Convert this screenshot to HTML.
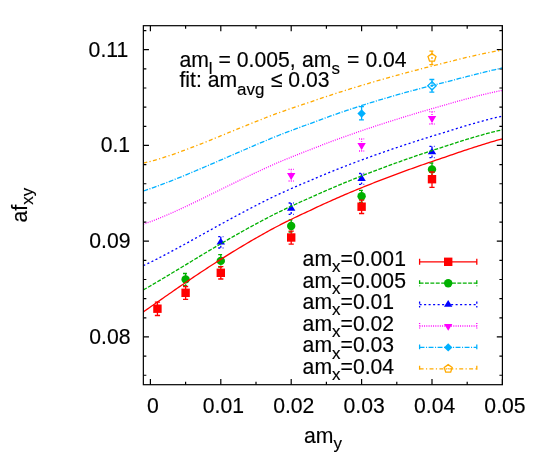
<!DOCTYPE html>
<html><head><meta charset="utf-8"><title>plot</title>
<style>html,body{margin:0;padding:0;background:#fff}body{width:538px;height:467px;overflow:hidden}</style>
</head><body>
<svg width="538" height="467" viewBox="0 0 538 467" style="will-change:transform;display:block;font-family:'Liberation Sans',sans-serif" fill="#000">
<rect width="538" height="467" fill="#fff"/>
<clipPath id="c"><rect x="143.35" y="25.7" width="359.04999999999995" height="359.0"/></clipPath>
<path d="M150.40,384.7 v-5.6 M150.40,25.7 v5.6 M185.60,384.7 v-3.0 M185.60,25.7 v3.0 M220.80,384.7 v-5.6 M220.80,25.7 v5.6 M256.00,384.7 v-3.0 M256.00,25.7 v3.0 M291.20,384.7 v-5.6 M291.20,25.7 v5.6 M326.40,384.7 v-3.0 M326.40,25.7 v3.0 M361.60,384.7 v-5.6 M361.60,25.7 v5.6 M396.80,384.7 v-3.0 M396.80,25.7 v3.0 M432.00,384.7 v-5.6 M432.00,25.7 v5.6 M467.20,384.7 v-3.0 M467.20,25.7 v3.0 M502.40,384.7 v-5.6 M502.40,25.7 v5.6 M143.35,375.25 h3.0 M502.4,375.25 h-3.0 M143.35,356.10 h3.0 M502.4,356.10 h-3.0 M143.35,336.95 h5.6 M502.4,336.95 h-5.6 M143.35,317.80 h3.0 M502.4,317.80 h-3.0 M143.35,298.65 h3.0 M502.4,298.65 h-3.0 M143.35,279.50 h3.0 M502.4,279.50 h-3.0 M143.35,260.35 h3.0 M502.4,260.35 h-3.0 M143.35,241.20 h5.6 M502.4,241.20 h-5.6 M143.35,222.05 h3.0 M502.4,222.05 h-3.0 M143.35,202.90 h3.0 M502.4,202.90 h-3.0 M143.35,183.75 h3.0 M502.4,183.75 h-3.0 M143.35,164.60 h3.0 M502.4,164.60 h-3.0 M143.35,145.45 h5.6 M502.4,145.45 h-5.6 M143.35,126.30 h3.0 M502.4,126.30 h-3.0 M143.35,107.15 h3.0 M502.4,107.15 h-3.0 M143.35,88.00 h3.0 M502.4,88.00 h-3.0 M143.35,68.85 h3.0 M502.4,68.85 h-3.0 M143.35,49.70 h5.6 M502.4,49.70 h-5.6 M143.35,30.55 h3.0 M502.4,30.55 h-3.0" stroke="#000" stroke-width="1.2" fill="none"/>
<path d="M432.00,51.20 V64.60 M429.40,51.20 H434.60 M429.40,64.60 H434.60" stroke="#ffaa00" stroke-width="1.3" fill="none" stroke-dasharray="4.00,2.35,1.20,2.35"/>
<path d="M432.00,53.60 L428.01,56.50 L429.53,61.20 L434.47,61.20 L435.99,56.50Z" fill="none" stroke="#ffaa00" stroke-width="1.3" stroke-linejoin="miter"/><circle cx="432.00" cy="57.80" r="0.7" fill="#ffaa00"/>
<path d="M361.60,106.70 V119.80 M359.00,106.70 H364.20 M359.00,119.80 H364.20" stroke="#00b0ff" stroke-width="1.3" fill="none" stroke-dasharray="4.90,1.50,1.10,1.50"/>
<path d="M361.60,109.30 L357.40,113.50 L361.60,117.70 L365.80,113.50Z" fill="#00b0ff"/>
<path d="M432.00,79.50 V92.20 M429.40,79.50 H434.60 M429.40,92.20 H434.60" stroke="#00b0ff" stroke-width="1.3" fill="none" stroke-dasharray="4.90,1.50,1.10,1.50"/>
<path d="M432.00,81.60 L427.80,85.80 L432.00,90.00 L436.20,85.80Z" fill="none" stroke="#00b0ff" stroke-width="1.3"/><circle cx="432.00" cy="85.80" r="0.7" fill="#00b0ff"/>
<path d="M291.20,169.40 V181.00 M288.60,169.40 H293.80 M288.60,181.00 H293.80" stroke="#ff00ff" stroke-width="1.3" fill="none" stroke-dasharray="0.95,1.30"/>
<path d="M291.20,179.90 L287.00,173.10 L295.40,173.10Z" fill="#ff00ff"/>
<path d="M361.60,138.90 V151.00 M359.00,138.90 H364.20 M359.00,151.00 H364.20" stroke="#ff00ff" stroke-width="1.3" fill="none" stroke-dasharray="0.95,1.30"/>
<path d="M361.60,149.90 L357.40,143.10 L365.80,143.10Z" fill="#ff00ff"/>
<path d="M432.00,111.70 V124.00 M429.40,111.70 H434.60 M429.40,124.00 H434.60" stroke="#ff00ff" stroke-width="1.3" fill="none" stroke-dasharray="0.95,1.30"/>
<path d="M432.00,122.90 L427.80,116.10 L436.20,116.10Z" fill="#ff00ff"/>
<path d="M220.80,236.70 V248.00 M218.20,236.70 H223.40 M218.20,248.00 H223.40" stroke="#0000ff" stroke-width="1.3" fill="none" stroke-dasharray="2.05,2.45"/>
<path d="M220.80,237.70 L216.60,244.50 L225.00,244.50Z" fill="#0000ff"/>
<path d="M291.20,203.00 V214.40 M288.60,203.00 H293.80 M288.60,214.40 H293.80" stroke="#0000ff" stroke-width="1.3" fill="none" stroke-dasharray="2.05,2.45"/>
<path d="M291.20,204.00 L287.00,210.80 L295.40,210.80Z" fill="#0000ff"/>
<path d="M361.60,173.50 V184.30 M359.00,173.50 H364.20 M359.00,184.30 H364.20" stroke="#0000ff" stroke-width="1.3" fill="none" stroke-dasharray="2.05,2.45"/>
<path d="M361.60,174.10 L357.40,180.90 L365.80,180.90Z" fill="#0000ff"/>
<path d="M432.00,146.40 V157.70 M429.40,146.40 H434.60 M429.40,157.70 H434.60" stroke="#0000ff" stroke-width="1.3" fill="none" stroke-dasharray="2.05,2.45"/>
<path d="M432.00,147.40 L427.80,154.20 L436.20,154.20Z" fill="#0000ff"/>
<path d="M185.60,273.50 V285.70 M183.00,273.50 H188.20 M183.00,285.70 H188.20" stroke="#00b000" stroke-width="1.3" fill="none" stroke-dasharray="3.90,1.50"/>
<circle cx="185.60" cy="279.40" r="4.20" fill="#00b000"/>
<path d="M220.80,254.60 V267.00 M218.20,254.60 H223.40 M218.20,267.00 H223.40" stroke="#00b000" stroke-width="1.3" fill="none" stroke-dasharray="3.90,1.50"/>
<circle cx="220.80" cy="260.90" r="4.20" fill="#00b000"/>
<path d="M291.20,219.80 V232.00 M288.60,219.80 H293.80 M288.60,232.00 H293.80" stroke="#00b000" stroke-width="1.3" fill="none" stroke-dasharray="3.90,1.50"/>
<circle cx="291.20" cy="226.00" r="4.20" fill="#00b000"/>
<path d="M361.60,190.30 V202.30 M359.00,190.30 H364.20 M359.00,202.30 H364.20" stroke="#00b000" stroke-width="1.3" fill="none" stroke-dasharray="3.90,1.50"/>
<circle cx="361.60" cy="196.20" r="4.20" fill="#00b000"/>
<path d="M432.00,163.00 V176.00 M429.40,163.00 H434.60 M429.40,176.00 H434.60" stroke="#00b000" stroke-width="1.3" fill="none" stroke-dasharray="3.90,1.50"/>
<circle cx="432.00" cy="169.40" r="4.20" fill="#00b000"/>
<path d="M157.44,302.10 V315.50 M154.84,302.10 H160.04 M154.84,315.50 H160.04" stroke="#ff0000" stroke-width="1.3" fill="none"/>
<rect x="153.24" y="304.50" width="8.40" height="8.40" fill="#ff0000"/>
<path d="M185.60,286.50 V299.40 M183.00,286.50 H188.20 M183.00,299.40 H188.20" stroke="#ff0000" stroke-width="1.3" fill="none"/>
<rect x="181.40" y="288.60" width="8.40" height="8.40" fill="#ff0000"/>
<path d="M220.80,266.60 V279.00 M218.20,266.60 H223.40 M218.20,279.00 H223.40" stroke="#ff0000" stroke-width="1.3" fill="none"/>
<rect x="216.60" y="268.60" width="8.40" height="8.40" fill="#ff0000"/>
<path d="M291.20,231.20 V244.10 M288.60,231.20 H293.80 M288.60,244.10 H293.80" stroke="#ff0000" stroke-width="1.3" fill="none"/>
<rect x="287.00" y="233.30" width="8.40" height="8.40" fill="#ff0000"/>
<path d="M361.60,200.20 V213.50 M359.00,200.20 H364.20 M359.00,213.50 H364.20" stroke="#ff0000" stroke-width="1.3" fill="none"/>
<rect x="357.40" y="202.50" width="8.40" height="8.40" fill="#ff0000"/>
<path d="M432.00,172.00 V187.30 M429.40,172.00 H434.60 M429.40,187.30 H434.60" stroke="#ff0000" stroke-width="1.3" fill="none"/>
<rect x="427.80" y="175.00" width="8.40" height="8.40" fill="#ff0000"/>
<path d="M143.35,311.90 L145.34,310.51 L147.34,309.11 L149.33,307.72 L151.33,306.32 L153.32,304.93 L155.32,303.53 L157.31,302.14 L159.31,300.75 L161.30,299.35 L163.30,297.96 L165.29,296.57 L167.29,295.18 L169.28,293.80 L171.28,292.41 L173.27,291.03 L175.27,289.65 L177.26,288.28 L179.25,286.90 L181.25,285.53 L183.24,284.17 L185.24,282.81 L187.23,281.45 L189.23,280.09 L191.22,278.74 L193.22,277.40 L195.21,276.06 L197.21,274.72 L199.20,273.39 L201.20,272.07 L203.19,270.75 L205.19,269.43 L207.18,268.12 L209.18,266.82 L211.17,265.52 L213.17,264.23 L215.16,262.94 L217.15,261.66 L219.15,260.39 L221.14,259.12 L223.14,257.86 L225.13,256.61 L227.13,255.36 L229.12,254.12 L231.12,252.89 L233.11,251.66 L235.11,250.44 L237.10,249.22 L239.10,248.02 L241.09,246.82 L243.09,245.62 L245.08,244.44 L247.08,243.26 L249.07,242.09 L251.06,240.92 L253.06,239.77 L255.05,238.62 L257.05,237.47 L259.04,236.34 L261.04,235.21 L263.03,234.09 L265.03,232.97 L267.02,231.87 L269.02,230.77 L271.01,229.67 L273.01,228.59 L275.00,227.51 L277.00,226.48 L278.99,225.46 L280.99,224.44 L282.98,223.44 L284.98,222.44 L286.97,221.44 L288.96,220.46 L290.96,219.48 L292.95,218.51 L294.95,217.54 L296.94,216.58 L298.94,215.63 L300.93,214.68 L302.93,213.75 L304.92,212.81 L306.92,211.89 L308.91,210.97 L310.91,210.04 L312.90,209.09 L314.90,208.15 L316.89,207.21 L318.89,206.28 L320.88,205.36 L322.88,204.44 L324.87,203.53 L326.86,202.62 L328.86,201.72 L330.85,200.82 L332.85,199.94 L334.84,199.05 L336.84,198.18 L338.83,197.30 L340.83,196.44 L342.82,195.58 L344.82,194.72 L346.81,193.87 L348.81,193.02 L350.80,192.18 L352.80,191.35 L354.79,190.52 L356.79,189.69 L358.78,188.87 L360.77,188.06 L362.77,187.24 L364.76,186.44 L366.76,185.63 L368.75,184.84 L370.75,184.04 L372.74,183.25 L374.74,182.47 L376.73,181.69 L378.73,180.91 L380.72,180.14 L382.72,179.37 L384.71,178.61 L386.71,177.85 L388.70,177.09 L390.70,176.33 L392.69,175.59 L394.68,174.84 L396.68,174.10 L398.67,173.36 L400.67,172.62 L402.66,171.89 L404.66,171.16 L406.65,170.44 L408.65,169.72 L410.64,169.00 L412.64,168.28 L414.63,167.57 L416.63,166.86 L418.62,166.16 L420.62,165.45 L422.61,164.76 L424.61,164.06 L426.60,163.37 L428.60,162.68 L430.59,161.99 L432.58,161.31 L434.58,160.63 L436.57,159.95 L438.57,159.27 L440.56,158.60 L442.56,157.93 L444.55,157.27 L446.55,156.58 L448.54,155.89 L450.54,155.20 L452.53,154.52 L454.53,153.83 L456.52,153.15 L458.52,152.48 L460.51,151.81 L462.51,151.14 L464.50,150.47 L466.50,149.81 L468.49,149.15 L470.48,148.50 L472.48,147.85 L474.47,147.20 L476.47,146.56 L478.46,145.92 L480.46,145.29 L482.45,144.66 L484.45,144.03 L486.44,143.41 L488.44,142.80 L490.43,142.19 L492.43,141.62 L494.42,141.05 L496.42,140.49 L498.41,139.93 L500.41,139.38 L502.40,138.83" fill="none" stroke="#ff0000" stroke-width="1.3" clip-path="url(#c)"/>
<path d="M143.35,289.91 L145.34,288.78 L147.34,287.65 L149.33,286.50 L151.33,285.35 L153.32,284.18 L155.32,283.02 L157.31,281.85 L159.31,280.67 L161.30,279.49 L163.30,278.30 L165.29,277.11 L167.29,275.91 L169.28,274.72 L171.28,273.52 L173.27,272.31 L175.27,271.11 L177.26,269.90 L179.25,268.69 L181.25,267.49 L183.24,266.28 L185.24,265.07 L187.23,263.86 L189.23,262.65 L191.22,261.44 L193.22,260.23 L195.21,259.03 L197.21,257.82 L199.20,256.62 L201.20,255.42 L203.19,254.22 L205.19,253.02 L207.18,251.83 L209.18,250.64 L211.17,249.45 L213.17,248.26 L215.16,247.08 L217.15,245.91 L219.15,244.73 L221.14,243.56 L223.14,242.40 L225.13,241.24 L227.13,240.08 L229.12,238.93 L231.12,237.78 L233.11,236.64 L235.11,235.50 L237.10,234.37 L239.10,233.24 L241.09,232.12 L243.09,231.01 L245.08,229.90 L247.08,228.79 L249.07,227.69 L251.06,226.60 L253.06,225.51 L255.05,224.43 L257.05,223.35 L259.04,222.28 L261.04,221.22 L263.03,220.16 L265.03,219.11 L267.02,218.07 L269.02,217.03 L271.01,215.99 L273.01,214.97 L275.00,213.94 L277.00,212.97 L278.99,212.01 L280.99,211.05 L282.98,210.09 L284.98,209.14 L286.97,208.20 L288.96,207.27 L290.96,206.34 L292.95,205.42 L294.95,204.50 L296.94,203.59 L298.94,202.68 L300.93,201.78 L302.93,200.89 L304.92,200.00 L306.92,199.12 L308.91,198.25 L310.91,197.36 L312.90,196.45 L314.90,195.55 L316.89,194.66 L318.89,193.77 L320.88,192.88 L322.88,192.00 L324.87,191.13 L326.86,190.26 L328.86,189.40 L330.85,188.54 L332.85,187.69 L334.84,186.84 L336.84,186.00 L338.83,185.16 L340.83,184.32 L342.82,183.50 L344.82,182.67 L346.81,181.85 L348.81,181.04 L350.80,180.23 L352.80,179.43 L354.79,178.63 L356.79,177.83 L358.78,177.04 L360.77,176.25 L362.77,175.47 L364.76,174.69 L366.76,173.91 L368.75,173.14 L370.75,172.37 L372.74,171.61 L374.74,170.85 L376.73,170.09 L378.73,169.34 L380.72,168.59 L382.72,167.85 L384.71,167.11 L386.71,166.37 L388.70,165.64 L390.70,164.91 L392.69,164.18 L394.68,163.46 L396.68,162.74 L398.67,162.02 L400.67,161.31 L402.66,160.60 L404.66,159.89 L406.65,159.19 L408.65,158.49 L410.64,157.79 L412.64,157.10 L414.63,156.41 L416.63,155.73 L418.62,155.04 L420.62,154.36 L422.61,153.69 L424.61,153.02 L426.60,152.35 L428.60,151.68 L430.59,151.02 L432.58,150.37 L434.58,149.71 L436.57,149.06 L438.57,148.42 L440.56,147.78 L442.56,147.14 L444.55,146.50 L446.55,145.85 L448.54,145.19 L450.54,144.54 L452.53,143.89 L454.53,143.24 L456.52,142.60 L458.52,141.97 L460.51,141.34 L462.51,140.71 L464.50,140.09 L466.50,139.48 L468.49,138.87 L470.48,138.27 L472.48,137.67 L474.47,137.08 L476.47,136.50 L478.46,135.93 L480.46,135.36 L482.45,134.79 L484.45,134.24 L486.44,133.69 L488.44,133.15 L490.43,132.63 L492.43,132.14 L494.42,131.66 L496.42,131.18 L498.41,130.72 L500.41,130.27 L502.40,129.82" fill="none" stroke="#00b000" stroke-width="1.3" stroke-dasharray="3.90,1.50" clip-path="url(#c)"/>
<path d="M143.35,265.61 L145.34,264.68 L147.34,263.73 L149.33,262.76 L151.33,261.79 L153.32,260.80 L155.32,259.81 L157.31,258.80 L159.31,257.78 L161.30,256.76 L163.30,255.72 L165.29,254.68 L167.29,253.63 L169.28,252.57 L171.28,251.51 L173.27,250.44 L175.27,249.37 L177.26,248.29 L179.25,247.21 L181.25,246.12 L183.24,245.03 L185.24,243.93 L187.23,242.83 L189.23,241.73 L191.22,240.63 L193.22,239.53 L195.21,238.42 L197.21,237.31 L199.20,236.20 L201.20,235.10 L203.19,233.99 L205.19,232.88 L207.18,231.77 L209.18,230.67 L211.17,229.56 L213.17,228.46 L215.16,227.36 L217.15,226.25 L219.15,225.16 L221.14,224.06 L223.14,222.97 L225.13,221.88 L227.13,220.79 L229.12,219.70 L231.12,218.62 L233.11,217.55 L235.11,216.47 L237.10,215.40 L239.10,214.34 L241.09,213.27 L243.09,212.22 L245.08,211.16 L247.08,210.12 L249.07,209.07 L251.06,208.03 L253.06,207.00 L255.05,205.97 L257.05,204.95 L259.04,203.93 L261.04,202.92 L263.03,201.91 L265.03,200.91 L267.02,199.92 L269.02,198.92 L271.01,197.94 L273.01,196.96 L275.00,195.99 L277.00,195.06 L278.99,194.14 L280.99,193.23 L282.98,192.32 L284.98,191.42 L286.97,190.53 L288.96,189.64 L290.96,188.76 L292.95,187.88 L294.95,187.01 L296.94,186.14 L298.94,185.28 L300.93,184.43 L302.93,183.58 L304.92,182.74 L306.92,181.90 L308.91,181.07 L310.91,180.23 L312.90,179.37 L314.90,178.51 L316.89,177.66 L318.89,176.81 L320.88,175.97 L322.88,175.14 L324.87,174.31 L326.86,173.49 L328.86,172.67 L330.85,171.86 L332.85,171.05 L334.84,170.25 L336.84,169.45 L338.83,168.66 L340.83,167.87 L342.82,167.09 L344.82,166.32 L346.81,165.54 L348.81,164.78 L350.80,164.01 L352.80,163.25 L354.79,162.50 L356.79,161.75 L358.78,161.01 L360.77,160.27 L362.77,159.53 L364.76,158.80 L366.76,158.07 L368.75,157.34 L370.75,156.62 L372.74,155.91 L374.74,155.20 L376.73,154.49 L378.73,153.78 L380.72,153.08 L382.72,152.38 L384.71,151.69 L386.71,151.00 L388.70,150.31 L390.70,149.63 L392.69,148.95 L394.68,148.27 L396.68,147.60 L398.67,146.92 L400.67,146.26 L402.66,145.59 L404.66,144.93 L406.65,144.27 L408.65,143.62 L410.64,142.97 L412.64,142.32 L414.63,141.67 L416.63,141.03 L418.62,140.39 L420.62,139.75 L422.61,139.12 L424.61,138.48 L426.60,137.86 L428.60,137.23 L430.59,136.61 L432.58,135.99 L434.58,135.37 L436.57,134.76 L438.57,134.15 L440.56,133.54 L442.56,132.94 L444.55,132.34 L446.55,131.72 L448.54,131.09 L450.54,130.47 L452.53,129.85 L454.53,129.23 L456.52,128.62 L458.52,128.01 L460.51,127.41 L462.51,126.81 L464.50,126.21 L466.50,125.62 L468.49,125.03 L470.48,124.45 L472.48,123.87 L474.47,123.30 L476.47,122.73 L478.46,122.17 L480.46,121.61 L482.45,121.06 L484.45,120.52 L486.44,119.97 L488.44,119.44 L490.43,118.92 L492.43,118.43 L494.42,117.95 L496.42,117.48 L498.41,117.01 L500.41,116.55 L502.40,116.10" fill="none" stroke="#0000ff" stroke-width="1.3" stroke-dasharray="2.05,2.45" clip-path="url(#c)"/>
<path d="M143.35,224.19 L145.34,223.51 L147.34,222.80 L149.33,222.08 L151.33,221.34 L153.32,220.58 L155.32,219.81 L157.31,219.02 L159.31,218.22 L161.30,217.40 L163.30,216.57 L165.29,215.73 L167.29,214.88 L169.28,214.01 L171.28,213.14 L173.27,212.25 L175.27,211.36 L177.26,210.46 L179.25,209.54 L181.25,208.62 L183.24,207.70 L185.24,206.76 L187.23,205.82 L189.23,204.88 L191.22,203.93 L193.22,202.97 L195.21,202.01 L197.21,201.05 L199.20,200.08 L201.20,199.11 L203.19,198.14 L205.19,197.16 L207.18,196.19 L209.18,195.21 L211.17,194.23 L213.17,193.25 L215.16,192.27 L217.15,191.29 L219.15,190.31 L221.14,189.33 L223.14,188.35 L225.13,187.37 L227.13,186.39 L229.12,185.41 L231.12,184.44 L233.11,183.47 L235.11,182.50 L237.10,181.53 L239.10,180.56 L241.09,179.60 L243.09,178.64 L245.08,177.69 L247.08,176.73 L249.07,175.79 L251.06,174.84 L253.06,173.90 L255.05,172.96 L257.05,172.03 L259.04,171.10 L261.04,170.17 L263.03,169.25 L265.03,168.34 L267.02,167.43 L269.02,166.52 L271.01,165.62 L273.01,164.72 L275.00,163.83 L277.00,162.99 L278.99,162.15 L280.99,161.31 L282.98,160.48 L284.98,159.66 L286.97,158.84 L288.96,158.03 L290.96,157.22 L292.95,156.42 L294.95,155.62 L296.94,154.83 L298.94,154.04 L300.93,153.26 L302.93,152.48 L304.92,151.71 L306.92,150.95 L308.91,150.19 L310.91,149.41 L312.90,148.62 L314.90,147.83 L316.89,147.05 L318.89,146.27 L320.88,145.50 L322.88,144.73 L324.87,143.97 L326.86,143.21 L328.86,142.45 L330.85,141.71 L332.85,140.96 L334.84,140.22 L336.84,139.49 L338.83,138.76 L340.83,138.03 L342.82,137.31 L344.82,136.59 L346.81,135.88 L348.81,135.17 L350.80,134.47 L352.80,133.77 L354.79,133.07 L356.79,132.38 L358.78,131.69 L360.77,131.01 L362.77,130.33 L364.76,129.65 L366.76,128.98 L368.75,128.31 L370.75,127.64 L372.74,126.98 L374.74,126.32 L376.73,125.66 L378.73,125.01 L380.72,124.36 L382.72,123.71 L384.71,123.07 L386.71,122.43 L388.70,121.79 L390.70,121.15 L392.69,120.52 L394.68,119.89 L396.68,119.27 L398.67,118.65 L400.67,118.03 L402.66,117.41 L404.66,116.79 L406.65,116.18 L408.65,115.57 L410.64,114.97 L412.64,114.36 L414.63,113.76 L416.63,113.16 L418.62,112.57 L420.62,111.98 L422.61,111.39 L424.61,110.80 L426.60,110.21 L428.60,109.63 L430.59,109.06 L432.58,108.48 L434.58,107.91 L436.57,107.34 L438.57,106.77 L440.56,106.21 L442.56,105.65 L444.55,105.10 L446.55,104.52 L448.54,103.94 L450.54,103.36 L452.53,102.78 L454.53,102.21 L456.52,101.65 L458.52,101.09 L460.51,100.53 L462.51,99.97 L464.50,99.43 L466.50,98.88 L468.49,98.35 L470.48,97.81 L472.48,97.29 L474.47,96.76 L476.47,96.25 L478.46,95.74 L480.46,95.24 L482.45,94.74 L484.45,94.25 L486.44,93.77 L488.44,93.29 L490.43,92.84 L492.43,92.41 L494.42,91.99 L496.42,91.58 L498.41,91.19 L500.41,90.80 L502.40,90.42" fill="none" stroke="#ff00ff" stroke-width="1.3" stroke-dasharray="0.95,1.30" clip-path="url(#c)"/>
<path d="M143.35,191.00 L145.34,190.33 L147.34,189.65 L149.33,188.96 L151.33,188.26 L153.32,187.55 L155.32,186.83 L157.31,186.11 L159.31,185.37 L161.30,184.63 L163.30,183.87 L165.29,183.11 L167.29,182.35 L169.28,181.57 L171.28,180.79 L173.27,180.00 L175.27,179.21 L177.26,178.41 L179.25,177.60 L181.25,176.79 L183.24,175.98 L185.24,175.16 L187.23,174.33 L189.23,173.50 L191.22,172.67 L193.22,171.83 L195.21,170.99 L197.21,170.15 L199.20,169.30 L201.20,168.45 L203.19,167.60 L205.19,166.75 L207.18,165.89 L209.18,165.03 L211.17,164.17 L213.17,163.31 L215.16,162.45 L217.15,161.58 L219.15,160.72 L221.14,159.85 L223.14,158.99 L225.13,158.12 L227.13,157.25 L229.12,156.39 L231.12,155.52 L233.11,154.65 L235.11,153.79 L237.10,152.92 L239.10,152.06 L241.09,151.20 L243.09,150.34 L245.08,149.48 L247.08,148.62 L249.07,147.76 L251.06,146.90 L253.06,146.05 L255.05,145.20 L257.05,144.35 L259.04,143.50 L261.04,142.65 L263.03,141.81 L265.03,140.97 L267.02,140.13 L269.02,139.30 L271.01,138.47 L273.01,137.64 L275.00,136.81 L277.00,136.03 L278.99,135.26 L280.99,134.48 L282.98,133.71 L284.98,132.95 L286.97,132.18 L288.96,131.42 L290.96,130.67 L292.95,129.92 L294.95,129.17 L296.94,128.42 L298.94,127.68 L300.93,126.95 L302.93,126.22 L304.92,125.49 L306.92,124.77 L308.91,124.05 L310.91,123.31 L312.90,122.56 L314.90,121.81 L316.89,121.07 L318.89,120.33 L320.88,119.59 L322.88,118.86 L324.87,118.13 L326.86,117.41 L328.86,116.69 L330.85,115.98 L332.85,115.27 L334.84,114.57 L336.84,113.87 L338.83,113.17 L340.83,112.48 L342.82,111.80 L344.82,111.11 L346.81,110.44 L348.81,109.77 L350.80,109.10 L352.80,108.44 L354.79,107.78 L356.79,107.13 L358.78,106.48 L360.77,105.83 L362.77,105.19 L364.76,104.56 L366.76,103.93 L368.75,103.30 L370.75,102.68 L372.74,102.06 L374.74,101.45 L376.73,100.84 L378.73,100.23 L380.72,99.63 L382.72,99.04 L384.71,98.44 L386.71,97.86 L388.70,97.27 L390.70,96.69 L392.69,96.12 L394.68,95.54 L396.68,94.98 L398.67,94.41 L400.67,93.85 L402.66,93.29 L404.66,92.74 L406.65,92.19 L408.65,91.65 L410.64,91.10 L412.64,90.56 L414.63,90.03 L416.63,89.50 L418.62,88.97 L420.62,88.44 L422.61,87.92 L424.61,87.40 L426.60,86.88 L428.60,86.37 L430.59,85.86 L432.58,85.35 L434.58,84.84 L436.57,84.34 L438.57,83.84 L440.56,83.34 L442.56,82.85 L444.55,82.35 L446.55,81.84 L448.54,81.31 L450.54,80.79 L452.53,80.28 L454.53,79.76 L456.52,79.25 L458.52,78.73 L460.51,78.22 L462.51,77.71 L464.50,77.20 L466.50,76.70 L468.49,76.19 L470.48,75.68 L472.48,75.18 L474.47,74.68 L476.47,74.18 L478.46,73.68 L480.46,73.18 L482.45,72.68 L484.45,72.18 L486.44,71.68 L488.44,71.18 L490.43,70.69 L492.43,70.22 L494.42,69.76 L496.42,69.29 L498.41,68.83 L500.41,68.36 L502.40,67.90" fill="none" stroke="#00b0ff" stroke-width="1.3" stroke-dasharray="4.90,1.50,1.10,1.50" clip-path="url(#c)"/>
<path d="M143.35,163.19 L145.34,162.71 L147.34,162.21 L149.33,161.69 L151.33,161.16 L153.32,160.61 L155.32,160.04 L157.31,159.46 L159.31,158.86 L161.30,158.24 L163.30,157.61 L165.29,156.97 L167.29,156.32 L169.28,155.65 L171.28,154.98 L173.27,154.29 L175.27,153.59 L177.26,152.88 L179.25,152.16 L181.25,151.44 L183.24,150.70 L185.24,149.96 L187.23,149.21 L189.23,148.45 L191.22,147.69 L193.22,146.92 L195.21,146.14 L197.21,145.36 L199.20,144.58 L201.20,143.79 L203.19,142.99 L205.19,142.19 L207.18,141.39 L209.18,140.59 L211.17,139.78 L213.17,138.97 L215.16,138.16 L217.15,137.35 L219.15,136.54 L221.14,135.72 L223.14,134.91 L225.13,134.09 L227.13,133.28 L229.12,132.46 L231.12,131.64 L233.11,130.83 L235.11,130.01 L237.10,129.20 L239.10,128.39 L241.09,127.57 L243.09,126.76 L245.08,125.96 L247.08,125.15 L249.07,124.35 L251.06,123.54 L253.06,122.74 L255.05,121.95 L257.05,121.15 L259.04,120.36 L261.04,119.57 L263.03,118.79 L265.03,118.00 L267.02,117.22 L269.02,116.45 L271.01,115.67 L273.01,114.90 L275.00,114.14 L277.00,113.42 L278.99,112.70 L280.99,111.99 L282.98,111.28 L284.98,110.58 L286.97,109.88 L288.96,109.18 L290.96,108.49 L292.95,107.80 L294.95,107.12 L296.94,106.44 L298.94,105.76 L300.93,105.09 L302.93,104.42 L304.92,103.76 L306.92,103.10 L308.91,102.44 L310.91,101.77 L312.90,101.08 L314.90,100.39 L316.89,99.71 L318.89,99.03 L320.88,98.36 L322.88,97.69 L324.87,97.02 L326.86,96.36 L328.86,95.70 L330.85,95.05 L332.85,94.40 L334.84,93.75 L336.84,93.11 L338.83,92.47 L340.83,91.84 L342.82,91.21 L344.82,90.58 L346.81,89.95 L348.81,89.33 L350.80,88.71 L352.80,88.10 L354.79,87.49 L356.79,86.88 L358.78,86.28 L360.77,85.68 L362.77,85.08 L364.76,84.49 L366.76,83.90 L368.75,83.31 L370.75,82.72 L372.74,82.14 L374.74,81.56 L376.73,80.99 L378.73,80.41 L380.72,79.84 L382.72,79.27 L384.71,78.71 L386.71,78.15 L388.70,77.59 L390.70,77.03 L392.69,76.48 L394.68,75.92 L396.68,75.38 L398.67,74.83 L400.67,74.28 L402.66,73.74 L404.66,73.20 L406.65,72.67 L408.65,72.13 L410.64,71.60 L412.64,71.07 L414.63,70.54 L416.63,70.02 L418.62,69.50 L420.62,68.98 L422.61,68.46 L424.61,67.95 L426.60,67.44 L428.60,66.93 L430.59,66.42 L432.58,65.92 L434.58,65.42 L436.57,64.92 L438.57,64.43 L440.56,63.93 L442.56,63.45 L444.55,62.96 L446.55,62.45 L448.54,61.94 L450.54,61.43 L452.53,60.92 L454.53,60.42 L456.52,59.92 L458.52,59.43 L460.51,58.94 L462.51,58.45 L464.50,57.97 L466.50,57.49 L468.49,57.02 L470.48,56.55 L472.48,56.09 L474.47,55.63 L476.47,55.18 L478.46,54.73 L480.46,54.29 L482.45,53.85 L484.45,53.42 L486.44,53.00 L488.44,52.58 L490.43,52.18 L492.43,51.81 L494.42,51.45 L496.42,51.10 L498.41,50.75 L500.41,50.41 L502.40,50.08" fill="none" stroke="#ffaa00" stroke-width="1.3" stroke-dasharray="4.00,2.35,1.20,2.35" clip-path="url(#c)"/>
<path d="M419.6,261.80 H476.8 M419.6,258.80 V264.80 M476.8,258.80 V264.80" stroke="#ff0000" stroke-width="1.3" fill="none"/>
<rect x="444.00" y="257.60" width="8.40" height="8.40" fill="#ff0000"/>
<g transform="translate(302.60,265.90)" stroke="#000" stroke-width="0.15"><text xml:space="preserve" style="white-space:pre" transform="translate(0.00,0.00) scale(1,1.0)" font-size="21.20">am</text><text xml:space="preserve" style="white-space:pre" transform="translate(29.45,6.20) scale(1,0.92)" font-size="16.96">x</text><text xml:space="preserve" style="white-space:pre" transform="translate(37.93,0.00) scale(1,1.04)" font-size="21.20">=0.001</text></g>
<path d="M419.6,283.20 H476.8 M419.6,280.20 V286.20 M476.8,280.20 V286.20" stroke="#00b000" stroke-width="1.3" fill="none" stroke-dasharray="3.90,1.50"/>
<circle cx="448.20" cy="283.20" r="4.20" fill="#00b000"/>
<g transform="translate(302.60,287.50)" stroke="#000" stroke-width="0.15"><text xml:space="preserve" style="white-space:pre" transform="translate(0.00,0.00) scale(1,1.0)" font-size="21.20">am</text><text xml:space="preserve" style="white-space:pre" transform="translate(29.45,6.20) scale(1,0.92)" font-size="16.96">x</text><text xml:space="preserve" style="white-space:pre" transform="translate(37.93,0.00) scale(1,1.04)" font-size="21.20">=0.005</text></g>
<path d="M419.6,304.60 H476.8 M419.6,301.60 V307.60 M476.8,301.60 V307.60" stroke="#0000ff" stroke-width="1.3" fill="none" stroke-dasharray="2.05,2.45"/>
<path d="M448.20,299.90 L444.00,306.70 L452.40,306.70Z" fill="#0000ff"/>
<g transform="translate(302.60,309.10)" stroke="#000" stroke-width="0.15"><text xml:space="preserve" style="white-space:pre" transform="translate(0.00,0.00) scale(1,1.0)" font-size="21.20">am</text><text xml:space="preserve" style="white-space:pre" transform="translate(29.45,6.20) scale(1,0.92)" font-size="16.96">x</text><text xml:space="preserve" style="white-space:pre" transform="translate(37.93,0.00) scale(1,1.04)" font-size="21.20">=0.01</text></g>
<path d="M419.6,326.00 H476.8 M419.6,323.00 V329.00 M476.8,323.00 V329.00" stroke="#ff00ff" stroke-width="1.3" fill="none" stroke-dasharray="0.95,1.30"/>
<path d="M448.20,330.70 L444.00,323.90 L452.40,323.90Z" fill="#ff00ff"/>
<g transform="translate(302.60,330.80)" stroke="#000" stroke-width="0.15"><text xml:space="preserve" style="white-space:pre" transform="translate(0.00,0.00) scale(1,1.0)" font-size="21.20">am</text><text xml:space="preserve" style="white-space:pre" transform="translate(29.45,6.20) scale(1,0.92)" font-size="16.96">x</text><text xml:space="preserve" style="white-space:pre" transform="translate(37.93,0.00) scale(1,1.04)" font-size="21.20">=0.02</text></g>
<path d="M419.6,347.40 H476.8 M419.6,344.40 V350.40 M476.8,344.40 V350.40" stroke="#00b0ff" stroke-width="1.3" fill="none" stroke-dasharray="4.90,1.50,1.10,1.50"/>
<path d="M448.20,343.20 L444.00,347.40 L448.20,351.60 L452.40,347.40Z" fill="#00b0ff"/>
<g transform="translate(302.60,352.40)" stroke="#000" stroke-width="0.15"><text xml:space="preserve" style="white-space:pre" transform="translate(0.00,0.00) scale(1,1.0)" font-size="21.20">am</text><text xml:space="preserve" style="white-space:pre" transform="translate(29.45,6.20) scale(1,0.92)" font-size="16.96">x</text><text xml:space="preserve" style="white-space:pre" transform="translate(37.93,0.00) scale(1,1.04)" font-size="21.20">=0.03</text></g>
<path d="M419.6,368.80 H476.8 M419.6,365.80 V371.80 M476.8,365.80 V371.80" stroke="#ffaa00" stroke-width="1.3" fill="none" stroke-dasharray="4.00,2.35,1.20,2.35"/>
<path d="M448.20,364.60 L444.21,367.50 L445.73,372.20 L450.67,372.20 L452.19,367.50Z" fill="none" stroke="#ffaa00" stroke-width="1.3" stroke-linejoin="miter"/><circle cx="448.20" cy="368.80" r="0.7" fill="#ffaa00"/>
<g transform="translate(302.60,374.10)" stroke="#000" stroke-width="0.15"><text xml:space="preserve" style="white-space:pre" transform="translate(0.00,0.00) scale(1,1.0)" font-size="21.20">am</text><text xml:space="preserve" style="white-space:pre" transform="translate(29.45,6.20) scale(1,0.92)" font-size="16.96">x</text><text xml:space="preserve" style="white-space:pre" transform="translate(37.93,0.00) scale(1,1.04)" font-size="21.20">=0.04</text></g>
<rect x="143.35" y="25.7" width="359.04999999999995" height="359.0" fill="none" stroke="#000" stroke-width="1.2"/>
<g transform="translate(153.00,412.60)" stroke="#000" stroke-width="0.15"><text xml:space="preserve" style="white-space:pre" transform="translate(-5.90,0.00) scale(1,1.04)" font-size="21.20">0</text></g>
<g transform="translate(223.40,412.60)" stroke="#000" stroke-width="0.15"><text xml:space="preserve" style="white-space:pre" transform="translate(-20.63,0.00) scale(1,1.04)" font-size="21.20">0.01</text></g>
<g transform="translate(293.80,412.60)" stroke="#000" stroke-width="0.15"><text xml:space="preserve" style="white-space:pre" transform="translate(-20.63,0.00) scale(1,1.04)" font-size="21.20">0.02</text></g>
<g transform="translate(364.20,412.60)" stroke="#000" stroke-width="0.15"><text xml:space="preserve" style="white-space:pre" transform="translate(-20.63,0.00) scale(1,1.04)" font-size="21.20">0.03</text></g>
<g transform="translate(434.60,412.60)" stroke="#000" stroke-width="0.15"><text xml:space="preserve" style="white-space:pre" transform="translate(-20.63,0.00) scale(1,1.04)" font-size="21.20">0.04</text></g>
<g transform="translate(505.00,412.60)" stroke="#000" stroke-width="0.15"><text xml:space="preserve" style="white-space:pre" transform="translate(-20.63,0.00) scale(1,1.04)" font-size="21.20">0.05</text></g>
<g transform="translate(130.50,344.25)" stroke="#000" stroke-width="0.15"><text xml:space="preserve" style="white-space:pre" transform="translate(-41.26,0.00) scale(1,1.04)" font-size="21.20">0.08</text></g>
<g transform="translate(130.60,247.70)" stroke="#000" stroke-width="0.15"><text xml:space="preserve" style="white-space:pre" transform="translate(-41.26,0.00) scale(1,1.04)" font-size="21.20">0.09</text></g>
<g transform="translate(130.10,152.35)" stroke="#000" stroke-width="0.15"><text xml:space="preserve" style="white-space:pre" transform="translate(-29.47,0.00) scale(1,1.04)" font-size="21.20">0.1</text></g>
<g transform="translate(128.30,57.00)" stroke="#000" stroke-width="0.15"><text xml:space="preserve" style="white-space:pre" transform="translate(-39.69,0.00) scale(1,1.04)" font-size="21.20">0.11</text></g>
<g transform="translate(304.00,443.20)" stroke="#000" stroke-width="0.15"><text xml:space="preserve" style="white-space:pre" transform="translate(0.00,0.00) scale(1,1.0)" font-size="21.20">am</text><text xml:space="preserve" style="white-space:pre" transform="translate(29.45,6.20) scale(1,0.92)" font-size="16.96">y</text></g>
<g transform="translate(27.00,222.50) rotate(-90)" stroke="#000" stroke-width="0.15"><text xml:space="preserve" style="white-space:pre" transform="translate(0.00,0.00) scale(1,1.0)" font-size="21.20">af</text><text xml:space="preserve" style="white-space:pre" transform="translate(17.68,6.20) scale(1,0.92)" font-size="16.96">xy</text></g>
<g transform="translate(179.40,66.60)" stroke="#000" stroke-width="0.15"><text xml:space="preserve" style="white-space:pre" transform="translate(0.00,0.00) scale(1,1.0)" font-size="21.20">am</text><text xml:space="preserve" style="white-space:pre" transform="translate(29.45,7.30) scale(1,0.92)" font-size="16.96">l</text><text xml:space="preserve" style="white-space:pre" transform="translate(33.22,0.00) scale(1,1.04)" font-size="21.20"> = 0.005, </text><text xml:space="preserve" style="white-space:pre" transform="translate(122.61,0.00) scale(1,1.0)" font-size="21.20">am</text><text xml:space="preserve" style="white-space:pre" transform="translate(152.06,7.30) scale(1,0.92)" font-size="16.96">s</text><text xml:space="preserve" style="white-space:pre" transform="translate(161.84,0.00) scale(1,1.04)" font-size="21.20"> = 0.04</text></g>
<g transform="translate(179.40,87.30)" stroke="#000" stroke-width="0.15"><text xml:space="preserve" style="white-space:pre" transform="translate(0.00,0.00) scale(1,1.0)" font-size="21.20">fit: am</text><text xml:space="preserve" style="white-space:pre" transform="translate(57.72,7.30) scale(1,0.92)" font-size="16.96">avg</text><text xml:space="preserve" style="white-space:pre" transform="translate(85.57,0.00) scale(1,1.04)" font-size="21.20"> ≤ 0.03</text></g>
</svg>
</body></html>
